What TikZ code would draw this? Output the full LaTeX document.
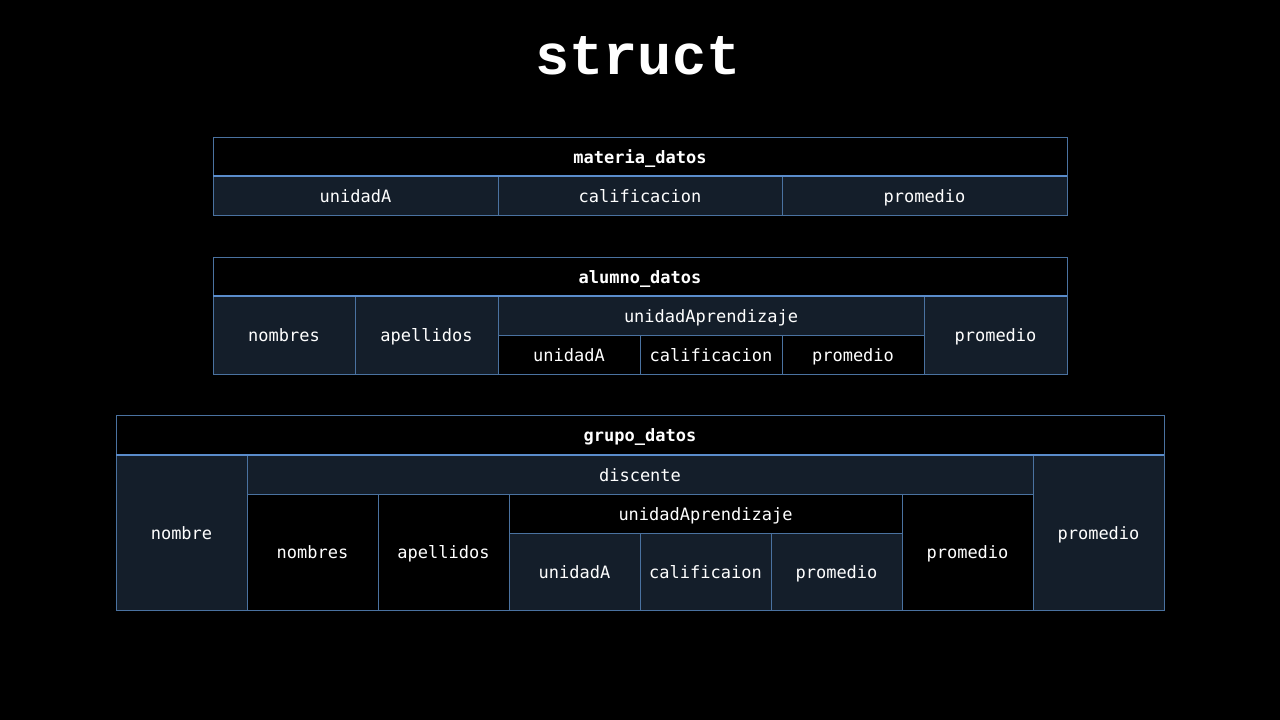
\documentclass[tikz,border=0pt]{standalone}
\usepackage{fontspec}
\setmonofont{DejaVu Sans Mono}
\newfontfamily\titlefont{Liberation Mono}
\definecolor{navy}{HTML}{141E2A}
\definecolor{edge}{HTML}{4A72A0}
\definecolor{sep}{HTML}{5A8CCB}
\tikzset{
  cell/.style={draw=edge, line width=1pt, inner sep=0pt, outer sep=0pt, text=white,
    font=\ttfamily\fontsize{17}{19}\selectfont, anchor=north west,
    text height=13.5pt, text depth=0pt},
  headcell/.style={cell, fill=black, font=\ttfamily\bfseries\fontsize{17}{19}\selectfont},
  sepline/.style={draw=sep, line width=2.6pt},
}
\newcommand\cellbox[7]{\node[cell,fill=#6,minimum width={#4pt-#2pt},minimum height={#5pt-#3pt}] (#1) at (#2,#3) {#7};}
\newcommand\headbox[6]{\node[headcell,minimum width={#4pt-#2pt},minimum height={#5pt-#3pt}] (#1) at (#2,#3) {#6};}
\begin{document}
\begin{tikzpicture}[x=1pt,y=-1pt]
\useasboundingbox[fill=black] (0,0) rectangle (1280,720);
\node[text=white, font=\titlefont\bfseries\fontsize{57}{60}\selectfont] (title) at (638,56) {struct};
% materia_datos
\headbox{mh}{213}{137}{1067}{176}{materia\_datos}
\cellbox{m1}{213}{176}{498}{215}{navy}{unidadA}
\cellbox{m2}{498}{176}{782}{215}{navy}{calificacion}
\cellbox{m3}{782}{176}{1067}{215}{navy}{promedio}
\draw[sepline] (mh.south west) -- (mh.south east);
% alumno_datos
\headbox{ah}{213}{257}{1067}{296}{alumno\_datos}
\cellbox{a1}{213}{296}{355}{374}{navy}{nombres}
\cellbox{a2}{355}{296}{498}{374}{navy}{apellidos}
\cellbox{a3}{498}{296}{924}{335}{navy}{unidadAprendizaje}
\cellbox{a31}{498}{335}{640}{374}{black}{unidadA}
\cellbox{a32}{640}{335}{782}{374}{black}{calificacion}
\cellbox{a33}{782}{335}{924}{374}{black}{promedio}
\cellbox{a4}{924}{296}{1067}{374}{navy}{promedio}
\draw[sepline] (ah.south west) -- (ah.south east);
% grupo_datos
\headbox{gh}{116}{415}{1164}{455}{grupo\_datos}
\cellbox{g1}{116}{455}{247}{610}{navy}{nombre}
\cellbox{g2}{247}{455}{1033}{494}{navy}{discente}
\cellbox{g21}{247}{494}{378}{610}{black}{nombres}
\cellbox{g22}{378}{494}{509}{610}{black}{apellidos}
\cellbox{g23}{509}{494}{902}{533}{black}{unidadAprendizaje}
\cellbox{g231}{509}{533}{640}{610}{navy}{unidadA}
\cellbox{g232}{640}{533}{771}{610}{navy}{calificaion}
\cellbox{g233}{771}{533}{902}{610}{navy}{promedio}
\cellbox{g24}{902}{494}{1033}{610}{black}{promedio}
\cellbox{g3}{1033}{455}{1164}{610}{navy}{promedio}
\draw[sepline] (gh.south west) -- (gh.south east);
\end{tikzpicture}
\end{document}
